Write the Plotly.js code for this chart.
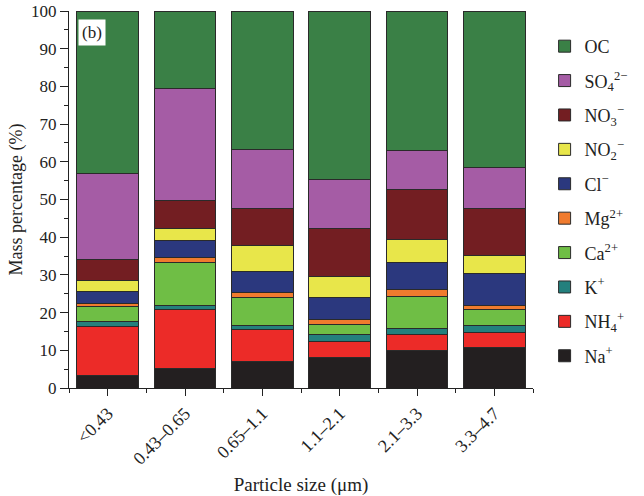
<!DOCTYPE html>
<html>
<head>
<meta charset="utf-8">
<script src="https://cdn.plot.ly/plotly-3.0.1.min.js"></script>
<style>html,body{margin:0;padding:0;background:#fff;}#chart{width:644px;height:496px;}</style>
</head>
<body>
<div id="chart"></div>
<script>
// Data (mass percentage, %)
const categories = ["<0.43", "0.43–0.65", "0.65–1.1", "1.1–2.1", "2.1–3.3", "3.3–4.7"];
const Na  = [3.4, 5.2, 7.1, 8.0, 9.9, 10.8];
const NH4 = [13.0, 15.5, 8.5, 4.4, 4.3, 3.9];
const K   = [1.2, 1.2, 1.0, 1.8, 1.6, 1.9];
const Ca  = [4.0, 11.3, 7.4, 2.7, 8.5, 4.3];
const Mg  = [0.9, 1.4, 1.3, 1.4, 1.7, 1.1];
const Cl  = [3.2, 4.5, 5.5, 5.8, 7.2, 8.4];
const NO2 = [2.9, 3.3, 7.1, 5.6, 6.2, 4.7];
const NO3 = [5.4, 7.3, 9.7, 12.6, 13.3, 12.5];
const SO4 = [22.8, 29.7, 15.7, 12.9, 10.2, 10.9];
const OC  = [43.2, 20.6, 36.7, 44.8, 37.1, 41.5];

const seriesNames = ["Na<sup>+</sup>", "NH<sub>4</sub><sup>+</sup>", "K<sup>+</sup>", "Ca<sup>2+</sup>", "Mg<sup>2+</sup>",
  "Cl<sup>−</sup>", "NO<sub>2</sub><sup>−</sup>", "NO<sub>3</sub><sup>−</sup>", "SO<sub>4</sub><sup>2−</sup>", "OC"];
const seriesValues = [Na, NH4, K, Ca, Mg, Cl, NO2, NO3, SO4, OC];
const seriesColors = ["#231f20", "#ec2b28", "#23807d", "#6fbe45", "#f07b2e",
  "#2b387e", "#e8e64a", "#731e22", "#a55ca5", "#3a8046"];

const xIdx = categories.map((c, i) => i);
const traces = seriesValues.map((v, k) => ({
  type: "bar",
  x: xIdx,
  y: v,
  name: seriesNames[k],
  legendgroup: "g" + k,
  legendrank: seriesValues.length - k,
  marker: {color: seriesColors[k], line: {color: "#2a2a2a", width: 1}},
  width: 0.8
}));

const fontFam = "Liberation Serif, Times New Roman, serif";
const layout = {
  width: 644, height: 496,
  margin: {l: 69, r: 82, t: 11, b: 108},
  barmode: "stack",
  paper_bgcolor: "#fff", plot_bgcolor: "#fff",
  font: {family: fontFam, size: 17, color: "#222"},
  xaxis: {
    range: [-0.5, 5.5],
    tickmode: "array", tickvals: xIdx, ticktext: categories,
    tickangle: -45,
    ticks: "outside", ticklen: 7, tickcolor: "#222",
    minor: {dtick: 0.5, tick0: -0.5, ticks: "outside", ticklen: 4, tickcolor: "#222"},
    showline: true, linecolor: "#222", linewidth: 1,
    showgrid: false, zeroline: false,
    tickfont: {family: fontFam, size: 18, color: "#222"},
    title: {text: "Particle size (μm)", font: {family: fontFam, size: 19, color: "#222"}, standoff: 9}
  },
  yaxis: {
    range: [0, 100],
    dtick: 10,
    ticks: "outside", ticklen: 8, tickcolor: "#222",
    minor: {dtick: 5, ticks: "outside", ticklen: 4, tickcolor: "#222"},
    showline: true, linecolor: "#222", linewidth: 1,
    showgrid: false, zeroline: false,
    tickfont: {family: fontFam, size: 17, color: "#222"},
    title: {text: "Mass percentage (%)", font: {family: fontFam, size: 18, color: "#222"}, standoff: 3}
  },
  legend: {
    x: 1.025, xanchor: "left", y: 0.955, yanchor: "top",
    traceorder: "grouped",
    tracegroupgap: 8,
    font: {family: fontFam, size: 18, color: "#222"},
    bgcolor: "rgba(0,0,0,0)"
  },
  annotations: [{
    xref: "paper", yref: "paper", x: 0.02, y: 0.98, xanchor: "left", yanchor: "top",
    text: "(b)", showarrow: false, bgcolor: "#fff",
    font: {family: fontFam, size: 17, color: "#222"}, borderpad: 3
  }],
  showlegend: true
};

Plotly.newPlot("chart", traces, layout, {displayModeBar: false, staticPlot: true});
</script>
</body>
</html>
